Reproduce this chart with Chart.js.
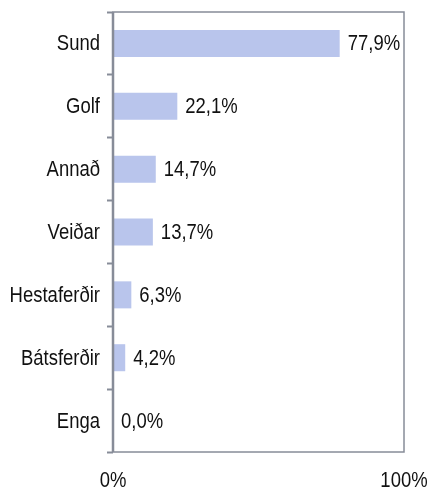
<!DOCTYPE html>
<html>
<head>
<meta charset="utf-8">
<script src="https://cdn.jsdelivr.net/npm/chart.js@4/dist/chart.umd.min.js"></script>
<style>
html,body{margin:0;padding:0;background:#fff;}
#wrap{width:428px;height:491px;}
</style>
</head>
<body>
<div id="wrap"><canvas id="c" width="428" height="491"></canvas></div>
<script>
const categories = ["Sund", "Golf", "Annað", "Veiðar", "Hestaferðir", "Bátsferðir", "Enga"];
const values = [77.9, 22.1, 14.7, 13.7, 6.3, 4.2, 0.0];
const xTickValues = [0, 100];
const xTickLabels = ["0%", "100%"];

const FONT = "'Liberation Sans', Arial, sans-serif";
const FONT_SIZE = 22;
const SQUEEZE = 0.84;   // narrow face look
const AXIS = "#878c98";
const TEXT = "#111";

function narrowText(ctx, text, x, y, align) {
  ctx.save();
  ctx.translate(x, y);
  ctx.scale(SQUEEZE, 1);
  ctx.font = FONT_SIZE + "px " + FONT;
  ctx.fillStyle = TEXT;
  ctx.textAlign = align;
  ctx.textBaseline = "middle";
  ctx.fillText(text, 0, 0);
  ctx.restore();
}

const frame = {
  id: 'frame',
  afterDatasetsDraw(chart) {
    const {ctx, chartArea: a} = chart;
    ctx.save();
    ctx.strokeStyle = AXIS;
    ctx.lineWidth = 1.5;
    ctx.strokeRect(a.left, a.top, a.right - a.left, a.bottom - a.top);
    ctx.lineWidth = 2.5;
    ctx.beginPath();
    ctx.moveTo(a.left, a.top);
    ctx.lineTo(a.left, a.bottom);
    ctx.stroke();
    ctx.restore();
  }
};

const textPlugin = {
  id: 'texts',
  afterDraw(chart) {
    const {ctx} = chart;
    const xs = chart.scales.x, ys = chart.scales.y;
    // category labels
    chart.data.labels.forEach((lab, i) => {
      narrowText(ctx, lab, ys.right - 13, ys.getPixelForValue(i) + 1, 'right');
    });
    // x tick labels
    xTickValues.forEach((v, i) => {
      narrowText(ctx, xTickLabels[i], xs.getPixelForValue(v), chart.chartArea.bottom + 29, 'center');
    });
    // value labels
    const meta = chart.getDatasetMeta(0);
    meta.data.forEach((bar, i) => {
      const v = chart.data.datasets[0].data[i];
      narrowText(ctx, v.toFixed(1).replace('.', ',') + '%', bar.x + 8, bar.y + 1, 'left');
    });
  }
};

new Chart(document.getElementById('c'), {
  type: 'bar',
  data: {
    labels: categories,
    datasets: [{
      data: values,
      backgroundColor: '#b9c5ec',
      borderWidth: 0,
      categoryPercentage: 1,
      barPercentage: 0.43
    }]
  },
  options: {
    indexAxis: 'y',
    responsive: false,
    animation: false,
    layout: {padding: {left: 0, top: 12, right: 24, bottom: 0}},
    plugins: {legend: {display: false}, tooltip: {enabled: false}},
    scales: {
      x: {
        min: 0, max: 100,
        border: {display: false},
        grid: {display: false, drawTicks: false},
        ticks: {display: false, stepSize: 100},
        afterFit(scale) { scale.height = 39; }
      },
      y: {
        offset: true,
        border: {display: false},
        grid: {
          offset: true,
          drawOnChartArea: false,
          drawTicks: true,
          tickLength: 6,
          tickWidth: 2,
          tickColor: AXIS
        },
        ticks: {display: false},
        afterFit(scale) { scale.width = 113; }
      }
    }
  },
  plugins: [frame, textPlugin]
});
</script>
</body>
</html>
